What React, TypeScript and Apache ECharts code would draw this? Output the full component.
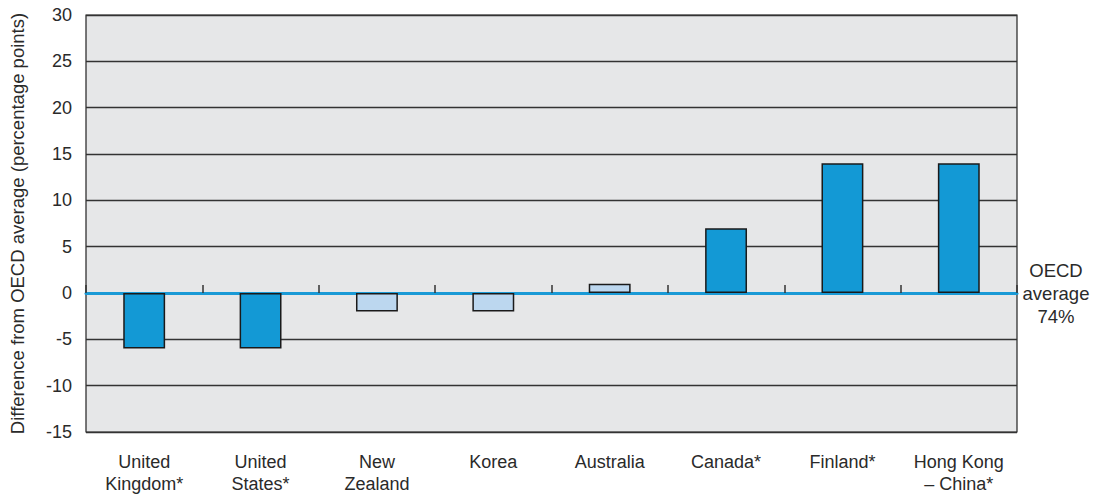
import React, { useEffect, useRef } from "react";
import * as echarts from "echarts";

const categories = [
  "United\nKingdom*",
  "United\nStates*",
  "New\nZealand",
  "Korea",
  "Australia",
  "Canada*",
  "Finland*",
  "Hong Kong\n– China*",
];
const values = [-6, -6, -2, -2, 1, 7, 14, 14];
const significant = [true, true, false, false, false, true, true, true];
const yMin = -15;
const yMax = 30;
const yStep = 5;
const sideNote = "OECD\naverage\n74%";
const yTitle = "Difference from OECD average (percentage points)";

const FONT = "Liberation Sans";
const DARK = "#1399d5";
const LIGHT = "#bcd7ef";
const TEXT = "#2a2a2a";

export default function App() {
  const ref = useRef<HTMLDivElement>(null);
  useEffect(() => {
    if (!ref.current) return;
    const chart = echarts.init(ref.current, undefined, { renderer: "svg" });
    chart.setOption({
      animation: false,
      grid: {
        left: 86,
        right: 78,
        top: 15,
        bottom: 62,
        outerBoundsMode: "none",
        containLabel: false,
        show: true,
        backgroundColor: "#e6e7e8",
        borderColor: "#222",
        borderWidth: 1.2,
      },
      xAxis: [
        {
          type: "category",
          data: categories,
          position: "bottom",
          axisLine: { show: false, onZero: false },
          axisTick: { show: false },
          axisLabel: {
            color: TEXT,
            fontFamily: FONT,
            fontSize: 18,
            lineHeight: 22,
            margin: 19,
            align: "center",
            interval: 0,
          },
        },
        {
          type: "category",
          data: categories,
          position: "bottom",
          axisLine: { show: true, onZero: true, lineStyle: { color: "#1a9ad6", width: 3 } },
          axisTick: { show: true, inside: true, length: 8, lineStyle: { color: "#333", width: 1.5 } },
          axisLabel: { show: false },
          splitLine: { show: false },
        },
      ],
      yAxis: {
        type: "value",
        min: yMin,
        max: yMax,
        interval: yStep,
        name: yTitle,
        nameLocation: "middle",
        nameGap: 59,
        nameRotate: 90,
        nameTextStyle: { color: TEXT, fontFamily: FONT, fontSize: 18.5 },
        axisLine: { show: false },
        axisTick: { show: false },
        axisLabel: {
          color: TEXT,
          fontFamily: FONT,
          fontSize: 18,
          margin: 14,
        },
        splitLine: { show: true, lineStyle: { color: "#333", width: 1.3 } },
      },
      series: [
        {
          type: "bar",
          xAxisIndex: 0,
          barWidth: "36%",
          data: values.map((v, i) => ({
            value: v,
            itemStyle: {
              color: significant[i] ? DARK : LIGHT,
              borderColor: "#1a1a1a",
              borderWidth: 1.5,
            },
          })),
        },
        {
          type: "line",
          xAxisIndex: 1,
          data: [],
          silent: true,
        },
      ],
      graphic: [
        {
          type: "text",
          x: 1056,
          y: 293,
          style: {
            text: sideNote,
            fill: TEXT,
            font: `18.5px ${FONT}`,
            lineHeight: 23,
            textAlign: "center",
            textVerticalAlign: "middle",
          },
        },
      ],
    });
    return () => chart.dispose();
  }, []);
  return (
    <div
      ref={ref}
      style={{ position: "absolute", left: 0, top: 0, width: 1095, height: 494 }}
    />
  );
}
